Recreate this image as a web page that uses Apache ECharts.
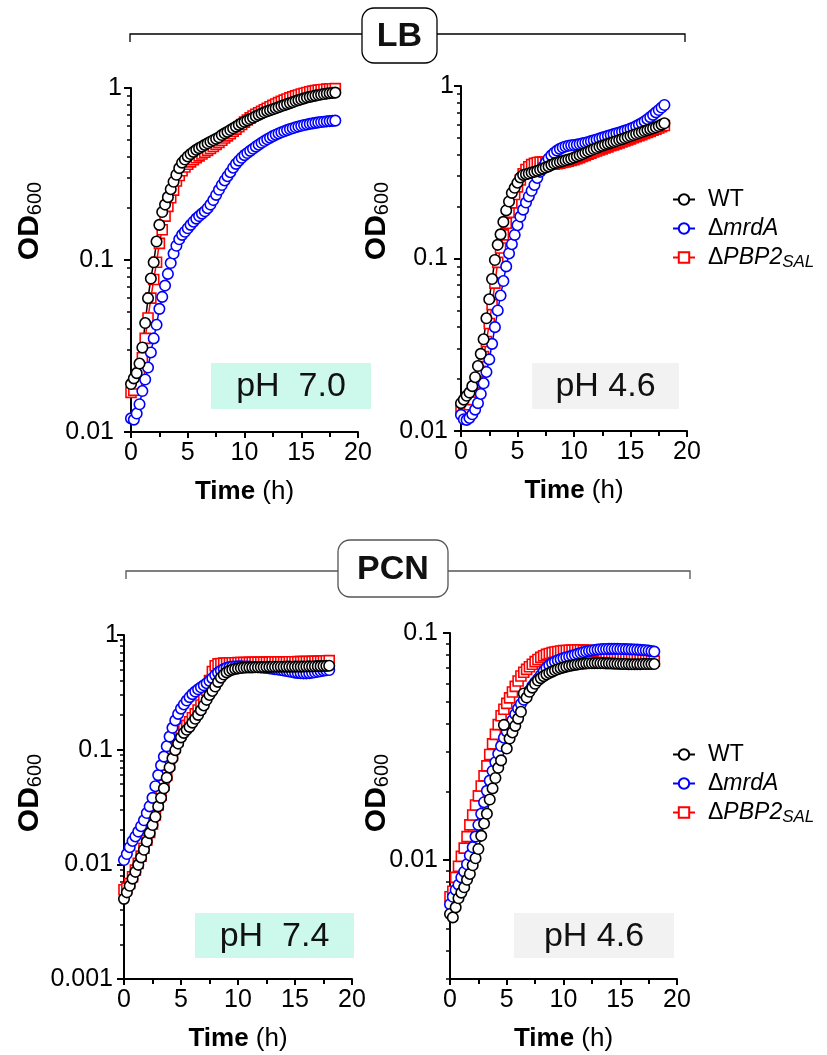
<!DOCTYPE html>
<html>
<head>
<meta charset="utf-8">
<script src="https://cdn.jsdelivr.net/npm/echarts@6/dist/echarts.min.js"></script>
<style>html,body{margin:0;padding:0;background:#fff}#c{width:827px;height:1055px}</style>
</head>
<body>
<div id="c"></div>
<script>
// ---------- data ----------
var TIME = [
 0,0.25,0.5,0.75, 1,1.25,1.5,1.75, 2,2.25,2.5,2.75, 3,3.25,3.5,3.75,
 4,4.25,4.5,4.75, 5,5.25,5.5,5.75, 6,6.25,6.5,6.75, 7,7.25,7.5,7.75,
 8,8.25,8.5,8.75, 9,9.25,9.5,9.75, 10,10.25,10.5,10.75, 11,11.25,11.5,11.75,
 12,12.25,12.5,12.75, 13,13.25,13.5,13.75, 14,14.25,14.5,14.75, 15,15.25,15.5,15.75,
 16,16.25,16.5,16.75, 17,17.25,17.5,17.75, 18
];
var SERIES_NAMES = ['WT', 'mrdA', 'PBP2'];
var X_TICKS = [0, 5, 10, 15, 20];

// LB pH 7.0
var LB70_WT = [
 0.019,0.0205,0.022,0.025, 0.031,0.043,0.060,0.078, 0.097,0.128,0.160,0.190,
 0.210,0.232,0.258,0.285, 0.313,0.342,0.368,0.384, 0.400,0.413,0.425,0.437,
 0.447,0.457,0.467,0.477, 0.487,0.497,0.507,0.517, 0.533,0.545,0.556,0.570,
 0.583,0.596,0.610,0.624, 0.636,0.648,0.660,0.672, 0.685,0.698,0.710,0.722,
 0.733,0.743,0.753,0.763, 0.774,0.785,0.795,0.806, 0.817,0.828,0.840,0.850,
 0.860,0.870,0.880,0.888, 0.896,0.903,0.910,0.916, 0.922,0.928,0.933,0.937, 0.940
];
var LB70_MRDA = [
 0.0120,0.0118,0.0128,0.0145, 0.0173,0.0202,0.0237,0.029, 0.035,0.042,0.052,0.061,
 0.071,0.083,0.096,0.109, 0.121,0.132,0.140,0.146, 0.153,0.160,0.167,0.174,
 0.180,0.186,0.192,0.200, 0.210,0.223,0.239,0.256, 0.273,0.290,0.307,0.324,
 0.344,0.362,0.378,0.393, 0.407,0.419,0.431,0.443, 0.456,0.468,0.480,0.492,
 0.503,0.514,0.525,0.535, 0.544,0.553,0.561,0.569, 0.577,0.584,0.591,0.597,
 0.603,0.609,0.614,0.619, 0.623,0.627,0.631,0.634, 0.637,0.640,0.642,0.644, 0.646
];
var LB70_PBP2 = [
 0.017,0.0175,0.019,0.022, 0.027,0.035,0.046,0.060, 0.077,0.097,0.125,0.150,
 0.180,0.205,0.230,0.255, 0.288,0.310,0.330,0.347, 0.360,0.372,0.383,0.393,
 0.403,0.413,0.423,0.434, 0.445,0.457,0.470,0.483, 0.497,0.512,0.527,0.543,
 0.560,0.577,0.595,0.614, 0.633,0.652,0.670,0.687, 0.703,0.718,0.733,0.748,
 0.763,0.778,0.793,0.808, 0.822,0.836,0.850,0.863, 0.876,0.888,0.900,0.911,
 0.922,0.932,0.942,0.951, 0.959,0.966,0.972,0.977, 0.981,0.985,0.988,0.990, 0.992
];

// LB pH 4.6
var LB46_WT = [
 0.0145,0.0152,0.0160,0.0167, 0.0182,0.0205,0.0238,0.028, 0.034,0.045,0.058,0.076,
 0.098,0.120,0.138,0.163, 0.190,0.214,0.240,0.257, 0.275,0.295,0.305,0.308,
 0.311,0.315,0.318,0.322, 0.327,0.332,0.337,0.342, 0.349,0.355,0.359,0.363,
 0.367,0.371,0.375,0.379, 0.385,0.391,0.397,0.403, 0.410,0.417,0.424,0.431,
 0.437,0.444,0.450,0.456, 0.462,0.468,0.474,0.480, 0.486,0.492,0.499,0.506,
 0.513,0.520,0.527,0.534, 0.541,0.548,0.555,0.562, 0.569,0.576,0.586,0.597, 0.608
];
var LB46_MRDA = [
 0.0124,0.0117,0.0116,0.0119, 0.0125,0.0133,0.0145,0.0164, 0.0189,0.022,0.026,0.032,
 0.040,0.050,0.061,0.074, 0.090,0.107,0.121,0.137, 0.156,0.175,0.192,0.211,
 0.229,0.247,0.267,0.293, 0.318,0.340,0.360,0.380, 0.396,0.410,0.422,0.432,
 0.440,0.446,0.450,0.453, 0.455,0.457,0.461,0.465, 0.469,0.474,0.479,0.484,
 0.490,0.496,0.502,0.508, 0.514,0.520,0.526,0.532, 0.538,0.544,0.551,0.558,
 0.566,0.575,0.585,0.597, 0.610,0.625,0.642,0.660, 0.680,0.703,0.726,0.750, 0.776
];
var LB46_PBP2 = [
 0.0132,0.0133,0.0136,0.0142, 0.0152,0.0168,0.0190,0.0222, 0.027,0.033,0.042,0.054,
 0.072,0.095,0.115,0.137, 0.160,0.185,0.210,0.235, 0.260,0.285,0.310,0.328,
 0.340,0.350,0.356,0.360, 0.362,0.362,0.360,0.356, 0.352,0.352,0.354,0.357,
 0.360,0.363,0.366,0.370, 0.374,0.379,0.384,0.390, 0.396,0.402,0.408,0.414,
 0.420,0.426,0.432,0.438, 0.444,0.450,0.456,0.462, 0.468,0.474,0.480,0.487,
 0.494,0.501,0.508,0.515, 0.522,0.530,0.538,0.546, 0.554,0.562,0.571,0.580, 0.590
];

// PCN pH 7.4
var PCN74_WT = [
 0.0050,0.0057,0.0065,0.0075, 0.0086,0.0099,0.0115,0.0134, 0.0158,0.0187,0.022,0.026,
 0.032,0.038,0.046,0.057, 0.070,0.084,0.099,0.113, 0.128,0.140,0.149,0.158,
 0.172,0.186,0.201,0.221, 0.243,0.272,0.300,0.325, 0.355,0.390,0.425,0.452,
 0.472,0.487,0.498,0.506, 0.511,0.515,0.518,0.520, 0.521,0.522,0.523,0.524,
 0.525,0.526,0.527,0.527, 0.528,0.528,0.528,0.529, 0.529,0.530,0.530,0.529,
 0.530,0.531,0.530,0.531, 0.532,0.533,0.532,0.534, 0.535,0.535,0.537,0.538, 0.540
];
var PCN74_MRDA = [
 0.0109,0.0123,0.0141,0.0160, 0.0175,0.0193,0.0215,0.0242, 0.028,0.032,0.038,0.048,
 0.060,0.073,0.087,0.107, 0.130,0.155,0.180,0.205, 0.228,0.248,0.268,0.287,
 0.305,0.321,0.336,0.350, 0.364,0.380,0.398,0.420, 0.447,0.470,0.490,0.505,
 0.517,0.525,0.530,0.532, 0.533,0.533,0.532,0.531, 0.530,0.528,0.526,0.524,
 0.521,0.518,0.515,0.512, 0.508,0.504,0.500,0.495, 0.490,0.485,0.480,0.475,
 0.470,0.467,0.465,0.463, 0.463,0.465,0.468,0.473, 0.478,0.483,0.488,0.492, 0.495
];
var PCN74_PBP2 = [
 0.0060,0.0062,0.0068,0.0078, 0.0089,0.0102,0.0118,0.0138, 0.0162,0.0190,0.0225,0.027,
 0.033,0.040,0.049,0.060, 0.074,0.089,0.105,0.120, 0.137,0.152,0.163,0.175,
 0.190,0.205,0.222,0.245, 0.280,0.330,0.400,0.480, 0.540,0.560,0.565,0.568,
 0.570,0.571,0.572,0.573, 0.574,0.575,0.576,0.576, 0.577,0.577,0.578,0.578,
 0.579,0.579,0.580,0.580, 0.581,0.581,0.582,0.582, 0.583,0.583,0.584,0.584,
 0.585,0.586,0.586,0.587, 0.588,0.588,0.589,0.590, 0.591,0.592,0.594,0.596, 0.598
];

// PCN pH 4.6
var PCN46_WT = [
 0.0058,0.0056,0.0062,0.0068, 0.0072,0.0076,0.0082,0.0087, 0.0095,0.0102,0.0112,0.0128,
 0.0145,0.0160,0.0185,0.0207, 0.0230,0.0255,0.0275,0.0394, 0.0310,0.0343,0.0365,0.0390,
 0.0420,0.0450,0.0542,0.0520, 0.0551,0.0575,0.0598,0.0618, 0.0633,0.0646,0.0657,0.0667,
 0.0676,0.0685,0.0693,0.0700, 0.0706,0.0711,0.0716,0.0720, 0.0724,0.0727,0.0730,0.0733,
 0.0735,0.0736,0.0736,0.0737, 0.0737,0.0736,0.0736,0.0735, 0.0735,0.0734,0.0733,0.0732,
 0.0731,0.0730,0.0730,0.0729, 0.0728,0.0728,0.0729,0.0729, 0.0730,0.0730,0.0730,0.0730, 0.0730
];
var PCN46_MRDA = [
 0.0064,0.0069,0.0074,0.0078, 0.0084,0.0089,0.0096,0.0105, 0.0114,0.0127,0.0143,0.0160,
 0.0180,0.0202,0.0224,0.0247, 0.0270,0.0294,0.0318,0.0346, 0.0369,0.0392,0.0413,0.0439,
 0.0465,0.0487,0.0508,0.0531, 0.0558,0.0584,0.0607,0.0628, 0.0652,0.0678,0.0702,0.0722,
 0.0737,0.0748,0.0758,0.0767, 0.0775,0.0782,0.0788,0.0795, 0.0802,0.0809,0.0816,0.0823,
 0.0829,0.0834,0.0838,0.0842, 0.0845,0.0848,0.0850,0.0850, 0.0851,0.0851,0.0851,0.0851,
 0.0850,0.0850,0.0849,0.0848, 0.0847,0.0846,0.0845,0.0843, 0.0841,0.0839,0.0836,0.0832, 0.0828
];
var PCN46_PBP2 = [
 0.0069,0.0073,0.0084,0.0094, 0.0104,0.0113,0.0127,0.0143, 0.0158,0.0175,0.0192,0.0212,
 0.0235,0.0260,0.0292,0.0325, 0.0358,0.0395,0.0432,0.0462, 0.0490,0.0518,0.0550,0.0582,
 0.0615,0.0647,0.0672,0.0692, 0.0710,0.0728,0.0748,0.0765, 0.0781,0.0794,0.0805,0.0813,
 0.0820,0.0825,0.0829,0.0833, 0.0836,0.0838,0.0840,0.0841, 0.0842,0.0842,0.0842,0.0841,
 0.0840,0.0838,0.0836,0.0833, 0.0830,0.0827,0.0823,0.0819, 0.0815,0.0811,0.0807,0.0803,
 0.0799,0.0795,0.0791,0.0787, 0.0783,0.0779,0.0775,0.0771, 0.0767,0.0763,0.0759,0.0755, 0.0752
];

// y tick values
var Y_MAJOR_A = [0.01, 0.1, 1];
var Y_MINOR_A = [0.02,0.03,0.04,0.05,0.06,0.07,0.08,0.09,0.2,0.3,0.4,0.5,0.6,0.7,0.8,0.9];
var Y_MAJOR_C = [0.001, 0.01, 0.1, 1];
var Y_MINOR_C = [0.002,0.003,0.004,0.005,0.006,0.007,0.008,0.009,0.02,0.03,0.04,0.05,0.06,0.07,0.08,0.09,0.2,0.3,0.4,0.5,0.6,0.7,0.8,0.9];
var Y_MAJOR_D = [0.01, 0.1];
var Y_MINOR_D = [0.003,0.004,0.005,0.006,0.007,0.008,0.009,0.02,0.03,0.04,0.05,0.06,0.07,0.08,0.09];

// ---------- chart ----------
var FONT = '"Liberation Sans", Arial, Helvetica, sans-serif';
var COLORS = {WT: '#000000', mrdA: '#0000ff', PBP2: '#ff0000'};
var SYMBOLS = {WT: 'circle', mrdA: 'circle', PBP2: 'rect'};

var panels = [
  {grid: {left: 131, top: 88, width: 227, height: 344}, min: 0.01, max: 1, major: Y_MAJOR_A, minor: Y_MINOR_A, m: 9, pad: 8,
   data: {WT: LB70_WT, mrdA: LB70_MRDA, PBP2: LB70_PBP2}},
  {grid: {left: 461, top: 86, width: 226, height: 345}, min: 0.01, max: 1, major: Y_MAJOR_A, minor: Y_MINOR_A, m: 7, pad: 6,
   data: {WT: LB46_WT, mrdA: LB46_MRDA, PBP2: LB46_PBP2}},
  {grid: {left: 124, top: 635, width: 228, height: 344}, min: 0.001, max: 1, major: Y_MAJOR_C, minor: Y_MINOR_C, m: 5, pad: 6,
   data: {WT: PCN74_WT, mrdA: PCN74_MRDA, PBP2: PCN74_PBP2}},
  {grid: {left: 450, top: 633, width: 227, height: 346}, min: 0.003, max: 0.1, major: Y_MAJOR_D, minor: Y_MINOR_D, m: 12, pad: 0,
   data: {WT: PCN46_WT, mrdA: PCN46_MRDA, PBP2: PCN46_PBP2}}
];

function numStr(v) { return String(parseFloat(v.toPrecision(6))); }

var grids = [], xAxes = [], yAxes = [], series = [];
panels.forEach(function (p, i) {
  grids.push(p.grid);
  xAxes.push({
    type: 'value', gridIndex: i, min: 0, max: 20, interval: 5,
    axisLine: {show: true, lineStyle: {color: '#000', width: 2}},
    axisTick: {show: true, length: 6, lineStyle: {color: '#000', width: 2}},
    minorTick: {show: true, splitNumber: 2, length: 5, lineStyle: {color: '#000', width: 2}},
    splitLine: {show: false}, minorSplitLine: {show: false},
    axisLabel: {fontSize: 25, color: '#000', margin: 9, fontFamily: FONT,
      formatter: function (v) { return X_TICKS.indexOf(v) >= 0 ? String(v) : ''; }},
    name: '{b|Time} (h)', nameLocation: 'middle', nameGap: 47,
    nameTextStyle: {fontSize: 26, color: '#000', fontFamily: FONT,
      rich: {b: {fontSize: 26, fontWeight: 'bold', color: '#000', fontFamily: FONT}}}
  });
  yAxes.push({
    type: 'log', logBase: 10, gridIndex: i, min: p.min, max: p.max, position: 'left',
    axisLine: {show: true, lineStyle: {color: '#000', width: 2}},
    axisTick: {show: true, length: 7, lineStyle: {color: '#000', width: 2}, customValues: p.major},
    splitLine: {show: false},
    axisLabel: {customValues: p.major, margin: p.m, color: '#000', fontSize: 25, fontFamily: FONT,
      formatter: function (v) {
        return Math.abs(v - 1) < 1e-9 ? '{o|1}' : '{p|' + numStr(v) + '}';
      },
      rich: {
        o: {fontSize: 25, color: '#000', fontFamily: FONT},
        p: {fontSize: 25, color: '#000', fontFamily: FONT, padding: [0, p.pad, 0, 0]}
      }}
  });
  yAxes.push({
    type: 'log', logBase: 10, gridIndex: i, min: p.min, max: p.max, position: 'left', offset: 0,
    axisLine: {show: false, onZero: false},
    axisTick: {show: true, length: 4, lineStyle: {color: '#000', width: 1.5}, customValues: p.minor},
    axisLabel: {show: false}, splitLine: {show: false}
  });
  // draw order: PBP2 (bottom), mrdA, WT (top)
  ['PBP2', 'mrdA', 'WT'].forEach(function (name) {
    var vals = p.data[name];
    series.push({
      type: 'line', name: name, xAxisIndex: i, yAxisIndex: i * 2,
      data: TIME.map(function (t, k) { return [t, vals[k]]; }),
      symbol: SYMBOLS[name], symbolSize: name === 'PBP2' ? 10 : 10.5,
      showSymbol: true, showAllSymbol: true, clip: false,
      lineStyle: {color: COLORS[name], width: 1.5},
      itemStyle: {color: '#fff', borderColor: COLORS[name], borderWidth: 1.6},
      emphasis: {disabled: true}, animation: false
    });
  });
});

function legendFmt(name) {
  if (name === 'WT') return '{t|WT}';
  if (name === 'mrdA') return '{t|Δ}{i|mrdA}';
  return '{t|Δ}{i|PBP2}{s|SAL}';
}
var legendText = {
  fontSize: 23, color: '#000', fontFamily: FONT,
  rich: {
    t: {fontSize: 23, color: '#000', fontFamily: FONT, padding: [0, 0, 0, 8]},
    i: {fontSize: 23, color: '#000', fontFamily: FONT, fontStyle: 'italic'},
    s: {fontSize: 17, color: '#000', fontFamily: FONT, fontStyle: 'italic', verticalAlign: 'bottom', padding: [10, 0, 0, 0]}
  }
};
function mkLegend(top) {
  return {
    orient: 'vertical', left: 672, top: top, itemWidth: 22, itemHeight: 13, itemGap: 6,
    data: ['WT', 'mrdA', 'PBP2'], formatter: legendFmt, selectedMode: false,
    textStyle: legendText, padding: 0
  };
}

function odTitle(x, y) {
  return {
    type: 'text', x: x, y: y, rotation: Math.PI / 2,
    style: {
      text: '{a|OD}{b|600}', align: 'center', verticalAlign: 'middle',
      rich: {
        a: {fontSize: 30, fontWeight: 'bold', fill: '#000', fontFamily: FONT},
        b: {fontSize: 20, fill: '#000', fontFamily: FONT, verticalAlign: 'bottom', padding: [6, 0, 0, 0]}
      }
    }
  };
}
function phBox(x, y, w, h, color, label) {
  return [
    {type: 'rect', shape: {x: x, y: y, width: w, height: h}, style: {fill: color}, z: 1},
    {type: 'text', x: x + w / 2, y: y + h / 2 + 1, z: 2,
     style: {text: label, fontSize: 34, fill: '#111', fontFamily: FONT, align: 'center', verticalAlign: 'middle'}}
  ];
}
function header(x1, x2, yl, bx, by, bw, bh, color, label) {
  return [
    {type: 'polyline', shape: {points: [[x1, yl + 8], [x1, yl], [x2, yl], [x2, yl + 8]]},
     style: {stroke: color, lineWidth: 1.3, fill: null}},
    {type: 'rect', shape: {x: bx, y: by, width: bw, height: bh, r: 12},
     style: {fill: '#fff', stroke: color, lineWidth: 1.3}},
    {type: 'text', x: bx + bw / 2, y: by + bh / 2 + 1,
     style: {text: label, fontSize: 34, fontWeight: 'bold', fill: '#111', fontFamily: FONT, align: 'center', verticalAlign: 'middle'}}
  ];
}

var graphics = []
  .concat(header(130, 685, 34, 362, 8, 75, 55, '#000', 'LB'))
  .concat(header(126, 690, 571, 338, 540, 110, 57, '#555', 'PCN'))
  .concat(phBox(211, 363, 160, 46, '#ccf9ec', 'pH  7.0'))
  .concat(phBox(532, 363, 147, 46, '#f2f2f2', 'pH 4.6'))
  .concat(phBox(195, 913, 159, 45, '#ccf9ec', 'pH  7.4'))
  .concat(phBox(514, 913, 160, 45, '#f2f2f2', 'pH 4.6'))
  .concat([odTitle(30, 221), odTitle(377, 221), odTitle(30, 793), odTitle(377, 793)]);

var chart = echarts.init(document.getElementById('c'), null, {renderer: 'canvas'});
chart.setOption({
  animation: false,
  backgroundColor: '#fff',
  textStyle: {fontFamily: FONT},
  grid: grids, xAxis: xAxes, yAxis: yAxes, series: series,
  legend: [mkLegend(188), mkLegend(743)],
  graphic: {elements: graphics}
});
</script>
</body>
</html>
